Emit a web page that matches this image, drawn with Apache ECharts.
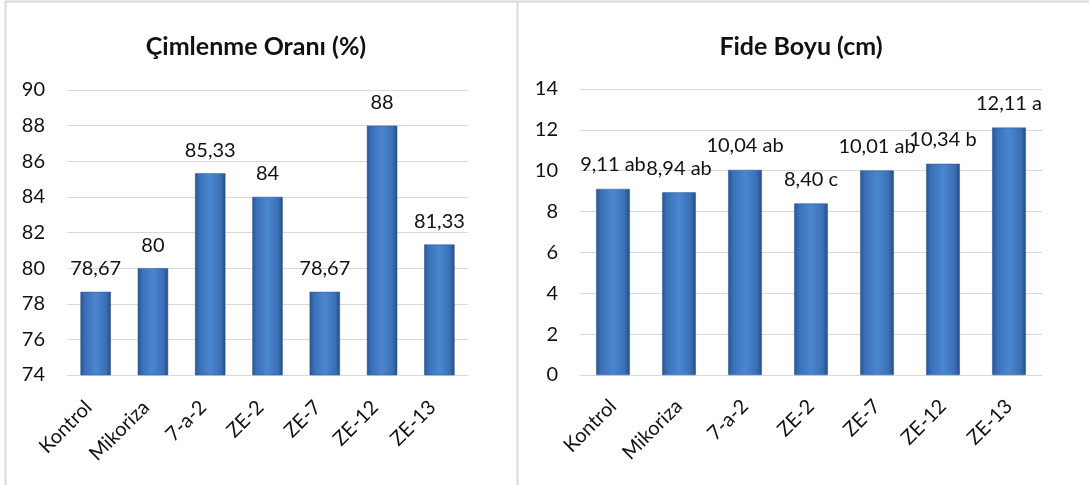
<!DOCTYPE html>
<html><head><meta charset="utf-8">
<script src="https://cdn.jsdelivr.net/npm/echarts@6/dist/echarts.min.js"></script>
<style>html,body{margin:0;padding:0;background:#fff}#c{width:1089px;height:485px}</style>
</head><body><div id="c"></div>
<script>
var categories = ['Kontrol','Mikoriza','7-a-2','ZE-2','ZE-7','ZE-12','ZE-13'];
var germination = [78.67, 80, 85.33, 84, 78.67, 88, 81.33];
var seedlingHeight = [9.11, 8.94, 10.04, 8.40, 10.01, 10.34, 12.11];
var heightLetters = ['ab','ab','ab','c','ab','b','a'];
var germTicks = [74, 90, 2];
var heightTicks = [0, 14, 2];
var titles = ['Çimlenme Oranı (%)', 'Fide Boyu (cm)'];

var FONT = 'Lato, Carlito, "Open Sans", sans-serif';
var TXT = '#111';
var FS = 20;
function comma(v, dec){ return v.toFixed(dec).replace('.', ','); }
var barGrad = new echarts.graphic.LinearGradient(0,0,1,0,[
  {offset:0,color:'#2a5591'},{offset:0.15,color:'#3a70b8'},
  {offset:0.5,color:'#4a87d0'},{offset:0.85,color:'#3a6fb6'},{offset:1,color:'#244c85'}]);

function xAxis(gi, margin, pad){
  return {type:'category', gridIndex:gi, data:categories,
    axisLine:{lineStyle:{color:'#d9d9d9'}}, axisTick:{show:false},
    axisLabel:{rotate:45, color:TXT, fontFamily:FONT, fontSize:FS, margin:margin, padding:[0,pad,0,0], interval:0}};
}
function yAxis(gi, t){
  return {type:'value', gridIndex:gi, min:t[0], max:t[1], interval:t[2],
    axisLine:{show:false}, axisTick:{show:false},
    splitLine:{lineStyle:{color:'#d9d9d9', width:1}},
    axisLabel:{color:TXT, fontFamily:FONT, fontSize:FS, margin:22}};
}

var chart = echarts.init(document.getElementById('c'), null, {renderer:'canvas'});
chart.setOption({
  animation:false,
  title:[
    {text:titles[0], left:251, top:29, textAlign:'center', textStyle:{fontFamily:FONT, fontSize:25, fontWeight:'bold', color:TXT}},
    {text:titles[1], left:796, top:29, textAlign:'center', textStyle:{fontFamily:FONT, fontSize:25, fontWeight:'bold', color:TXT}}
  ],
  graphic:[
    {type:'line', shape:{x1:5,y1:1.5,x2:1089,y2:1.5}, style:{stroke:'#d9d9d9', lineWidth:2}},
    {type:'line', shape:{x1:5.5,y1:1,x2:5.5,y2:485}, style:{stroke:'#d9d9d9', lineWidth:2}},
    {type:'line', shape:{x1:517.5,y1:1,x2:517.5,y2:485}, style:{stroke:'#d9d9d9', lineWidth:2}}
  ],
  grid:[
    {left:67, right:621, top:90, bottom:110},
    {left:580, right:47, top:89, bottom:110}
  ],
  xAxis:[xAxis(0, 22, 10), xAxis(1, 28, 0)],
  yAxis:[yAxis(0, germTicks), yAxis(1, heightTicks)],
  series:[
    {type:'bar', xAxisIndex:0, yAxisIndex:0, data:germination, barCategoryGap:'47%',
      itemStyle:{color:barGrad, borderColor:'#2a5490', borderWidth:0.5},
      label:{show:true, position:'top', distance:13, color:TXT, fontFamily:FONT, fontSize:FS,
        formatter:function(p){ var v=p.value; return Number.isInteger(v)? String(v) : comma(v,2); }}},
    {type:'bar', xAxisIndex:1, yAxisIndex:1, data:seedlingHeight, barCategoryGap:'49%',
      itemStyle:{color:barGrad, borderColor:'#2a5490', borderWidth:0.5},
      label:{show:true, position:'top', distance:14, color:TXT, fontFamily:FONT, fontSize:FS,
        formatter:function(p){ return comma(p.value,2)+' '+heightLetters[p.dataIndex]; }}}
  ]
});
</script></body></html>
